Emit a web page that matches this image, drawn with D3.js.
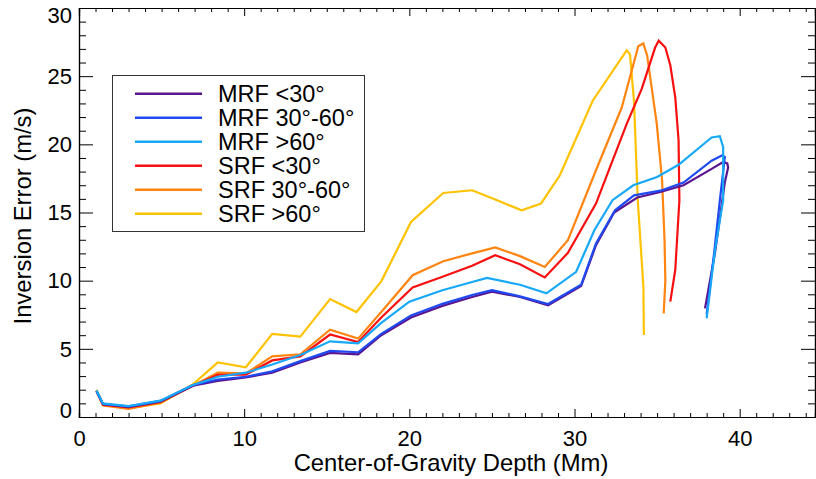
<!DOCTYPE html>
<html>
<head>
<meta charset="utf-8">
<script src="https://cdn.jsdelivr.net/npm/d3@7"></script>
<style>
  body { margin: 0; background: #fff; }
  svg { display: block; font-family: "Liberation Sans", Arial, sans-serif; }
</style>
</head>
<body>
<div id="chart"></div>
<script>
// series labels and colours (legend order)
const seriesNames = ["MRF <30°", "MRF 30°-60°", "MRF >60°", "SRF <30°", "SRF 30°-60°", "SRF >60°"];
const seriesColors = ["#5a1490", "#1e4af0", "#18a8f8", "#f81010", "#ff8410", "#ffc200"];

// centre-of-gravity depth (Mm) and inversion error (m/s)
const mrf30Depth = [1.06,1.45,3.0,4.93,6.9,8.4,10.1,11.7,13.4,15.2,16.9,18.3,20.1,22.0,23.8,25.0,26.7,28.4,30.4,31.3,32.4,33.8,35.2,36.6,38.3,39.0,39.25,39.3,39.1,38.95,38.5,37.9];
const mrf30Err   = [1.9,0.95,0.75,1.15,2.3,2.65,2.9,3.25,4.0,4.7,4.6,6.0,7.3,8.15,8.8,9.2,8.8,8.2,9.6,12.6,15.0,16.1,16.5,17.0,18.2,18.7,18.6,18.3,17.2,15.9,12.0,7.97];

const mrf3060Depth = [1.06,1.45,3.0,4.93,6.9,8.4,10.1,11.7,13.4,15.2,16.9,18.3,20.1,22.0,23.8,25.0,26.7,28.4,30.4,31.3,32.45,33.6,35.2,36.6,38.3,38.95,39.1,39.0,38.8,38.45,38.0];
const mrf3060Err   = [1.9,0.95,0.78,1.18,2.35,2.75,2.95,3.35,4.1,4.85,4.75,6.1,7.45,8.3,8.95,9.3,8.85,8.29,9.7,12.73,15.16,16.26,16.6,17.2,18.8,19.2,19.07,18.0,15.9,12.0,7.5];

const mrf60Depth = [1.06,1.45,3.0,4.93,6.9,8.4,10.1,11.7,13.4,15.2,16.9,18.3,20.0,22.0,23.8,24.7,26.7,28.3,30.1,31.2,32.3,33.56,35.0,36.3,38.3,38.8,39.0,39.0,38.5,38.0];
const mrf60Err   = [1.95,1.0,0.8,1.2,2.35,2.95,3.25,3.85,4.55,5.55,5.4,6.9,8.46,9.3,9.9,10.2,9.7,9.07,10.65,13.7,15.9,17.0,17.6,18.5,20.5,20.6,19.8,15.9,12.2,7.24];

const srf30Depth = [1.06,1.45,3.0,4.93,6.9,8.4,10.1,11.7,13.4,15.2,16.9,18.3,20.2,22.05,23.8,25.2,26.7,28.2,29.6,31.3,33.16,34.07,34.88,35.1,35.5,35.8,36.1,36.3,36.35,36.1,35.8];
const srf30Err   = [1.9,0.9,0.7,1.1,2.3,3.1,3.1,4.15,4.45,6.05,5.5,7.3,9.5,10.3,11.1,11.87,11.2,10.24,12.04,15.65,21.5,24.07,27.1,27.6,27.1,25.8,23.45,20.3,15.9,10.8,8.46];

const srf3060Depth = [1.06,1.45,3.0,4.93,6.9,8.4,10.1,11.7,13.4,15.2,16.9,18.3,20.2,22.05,23.8,25.2,26.7,28.2,29.6,31.3,32.86,33.86,34.17,34.4,34.98,35.3,35.45,35.5,35.4];
const srf3060Err   = [1.9,0.85,0.6,1.05,2.3,3.25,3.2,4.45,4.6,6.4,5.75,7.7,10.4,11.43,12.0,12.44,11.8,11.0,12.97,18.1,22.7,27.2,27.4,26.5,21.5,17.4,13.0,10.0,7.6];

const srf60Depth = [1.06,1.45,3.0,4.93,6.9,8.4,10.1,11.7,13.4,15.2,16.8,18.3,20.1,22.05,23.8,25.2,26.8,27.97,29.1,31.1,33.16,33.36,33.6,33.83,34.17,34.2];
const srf60Err   = [2.0,0.95,0.65,1.0,2.4,4.0,3.65,6.1,5.9,8.65,7.7,9.95,14.3,16.43,16.63,15.95,15.16,15.65,17.7,23.2,26.9,26.6,23.2,15.9,9.55,6.02];

const depthArrays = [mrf30Depth, mrf3060Depth, mrf60Depth, srf30Depth, srf3060Depth, srf60Depth];
const errArrays   = [mrf30Err, mrf3060Err, mrf60Err, srf30Err, srf3060Err, srf60Err];

const xMajor = [0, 10, 20, 30, 40];
const yMajor = [0, 5, 10, 15, 20, 25, 30];

const width = 816, height = 479;
const plotLeft = 79, plotRight = 815, plotTop = 8, plotBottom = 417;

const svg = d3.select("#chart").append("svg")
  .attr("width", width)
  .attr("height", height);

const x = d3.scaleLinear().domain([0, 44.56]).range([plotLeft, plotRight]);
const y = d3.scaleLinear().domain([0, 30]).range([plotBottom, plotTop]);

// series, SRF first so the MRF curves sit on top
const order = [5, 4, 3, 0, 1, 2];
const line = d3.line().x(d => x(d[0])).y(d => y(d[1]));
svg.append("g")
  .selectAll("path")
  .data(order)
  .join("path")
  .attr("d", i => line(d3.zip(depthArrays[i], errArrays[i])))
  .attr("fill", "none")
  .attr("stroke", i => seriesColors[i])
  .attr("stroke-width", 2.2)
  .attr("stroke-linejoin", "miter");

// axes: ticks point inward on all four sides
const xMinor = d3.range(0, 45, 1).filter(v => v % 10 !== 0);
const yMinor = d3.range(0, 31, 1).filter(v => v % 5 !== 0);

function axisPair(g, axisFn, scale, major, minor, len, labels) {
  g.append("g").call(axisFn(scale).tickValues(minor).tickSize(-len / 2).tickFormat(""));
  g.append("g").call(axisFn(scale).tickValues(major).tickSize(-len).tickPadding(8)
    .tickFormat(labels ? d3.format("d") : ""));
}

const gBottom = svg.append("g").attr("transform", `translate(0,${plotBottom})`);
axisPair(gBottom, d3.axisBottom, x, xMajor, xMinor, 8, true);
const gTop = svg.append("g").attr("transform", `translate(0,${plotTop})`);
axisPair(gTop, d3.axisTop, x, xMajor, xMinor, 8, false);
const gLeft = svg.append("g").attr("transform", `translate(${plotLeft},0)`);
axisPair(gLeft, d3.axisLeft, y, yMajor, yMinor, 14, true);
const gRight = svg.append("g").attr("transform", `translate(${plotRight},0)`);
axisPair(gRight, d3.axisRight, y, yMajor, yMinor, 14, false);

svg.selectAll(".domain").attr("stroke", "#000").attr("stroke-width", 1.2);
svg.selectAll(".tick line").attr("stroke", "#000");
svg.selectAll(".tick text")
  .attr("fill", "#000")
  .style("font-size", "22px")
  .style("font-family", "'Liberation Sans', Arial, sans-serif");
gBottom.selectAll(".tick text").attr("dy", "0.95em");
// end labels on the y axis sit inside the frame
gLeft.selectAll(".tick text")
  .attr("x", -7)
  .attr("dy", d => d === 0 ? "0.0em" : d === 30 ? "0.65em" : "0.33em");

// axis titles
svg.append("text")
  .attr("x", 451)
  .attr("y", 471)
  .attr("text-anchor", "middle")
  .style("font-size", "23.8px")
  .text("Center-of-Gravity Depth (Mm)");

svg.append("text")
  .attr("transform", `translate(31,216) rotate(-90)`)
  .attr("text-anchor", "middle")
  .style("font-size", "23.8px")
  .text("Inversion Error (m/s)");

// legend
const legend = svg.append("g");
legend.append("rect")
  .attr("x", 112.5).attr("y", 75.5)
  .attr("width", 252).attr("height", 156)
  .attr("fill", "#fff")
  .attr("stroke", "#333")
  .attr("stroke-width", 1);

const rows = legend.selectAll("g.row")
  .data(seriesNames)
  .join("g")
  .attr("class", "row")
  .attr("transform", (d, i) => `translate(0,${93.7 + i * 24})`);
rows.append("line")
  .attr("x1", 135).attr("x2", 202)
  .attr("stroke", (d, i) => seriesColors[i])
  .attr("stroke-width", 2.6);
rows.append("text")
  .attr("x", 218)
  .attr("dy", "0.36em")
  .style("font-size", "23.5px")
  .text(d => d);
</script>
</body>
</html>
